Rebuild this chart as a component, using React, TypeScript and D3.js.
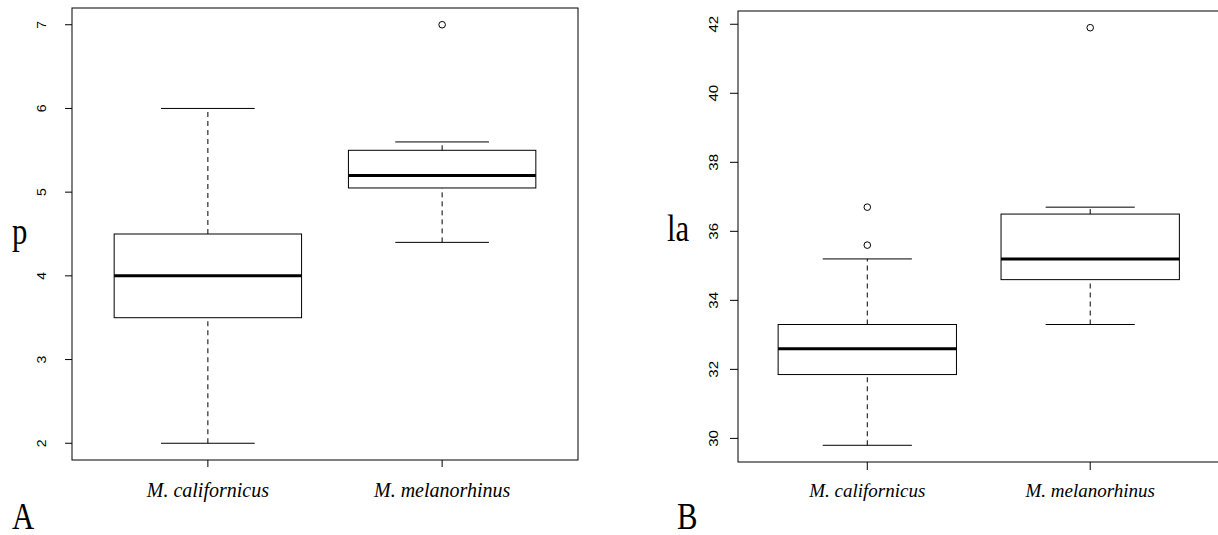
import React from "react";
import * as d3 from "d3";

// groups on the x axis
const groups = ["M. californicus", "M. melanorhinus"];

// box stats: [lower whisker, Q1, median, Q3, upper whisker]
const pStats = [
  [2, 3.5, 4, 4.5, 6],
  [4.4, 5.05, 5.2, 5.5, 5.6],
];
const pOutliers = [[], [7]];
const pTicks = [2, 3, 4, 5, 6, 7];

const laStats = [
  [29.8, 31.85, 32.6, 33.3, 35.2],
  [33.3, 34.6, 35.2, 36.5, 36.7],
];
const laOutliers = [[36.7, 35.6], [41.9]];
const laTicks = [30, 32, 34, 36, 38, 40, 42];

type PanelProps = {
  stats: number[][];
  outliers: number[][];
  ticks: number[];
  left: number;
  right: number;
  top: number;
  bottom: number;
  tickFont: number;
  labelFont: number;
  tickLabelX: number;
  tickLen: number;
  yLabel: string;
  yLabelX: number;
  yLabelY: number;
  letter: string;
  letterX: number;
};

function Panel(props: PanelProps) {
  const { stats, outliers, ticks, left, right, top, bottom } = props;

  // R style range: data extent padded by 4%
  const all = stats.flat().concat(outliers.flat());
  const [lo, hi] = d3.extent(all) as [number, number];
  const pad = (hi - lo) * 0.04;
  const y = d3.scaleLinear().domain([lo - pad, hi + pad]).range([bottom, top]);
  const x = d3.scaleLinear().domain([0.42, groups.length + 0.58]).range([left, right]);

  const bigFont = "'Liberation Serif', 'Times New Roman', serif";
  const sans = "'Liberation Sans', Arial, sans-serif";

  return (
    <g>
      {/* frame */}
      <rect x={left} y={top} width={right - left} height={bottom - top} fill="none" stroke="#000" strokeWidth={1} />

      {/* y axis */}
      {ticks.map((t) => (
        <g key={t}>
          <line x1={left - props.tickLen} x2={left} y1={y(t)} y2={y(t)} stroke="#000" />
          <text
            transform={`translate(${props.tickLabelX},${y(t)}) rotate(-90) scale(1,0.87)`}
            textAnchor="middle"
            fontFamily={sans}
            fontSize={props.tickFont}
            fill="#000"
          >
            {t}
          </text>
        </g>
      ))}

      {/* x axis */}
      {groups.map((g, i) => (
        <g key={g}>
          <line x1={x(i + 1)} x2={x(i + 1)} y1={bottom} y2={bottom + props.tickLen} stroke="#000" />
          <text
            x={x(i + 1)}
            y={497}
            textAnchor="middle"
            fontFamily={bigFont}
            fontStyle="italic"
            fontSize={props.labelFont}
            fill="#000"
          >
            {g}
          </text>
        </g>
      ))}

      {/* boxes */}
      {stats.map((s, i) => {
        const cx = x(i + 1);
        const bw = x(1.4) - x(1);
        const sw = x(1.2) - x(1);
        return (
          <g key={i}>
            <line x1={cx} x2={cx} y1={y(s[0])} y2={y(s[1])} stroke="#000" strokeDasharray="5,4" />
            <line x1={cx} x2={cx} y1={y(s[3])} y2={y(s[4])} stroke="#000" strokeDasharray="5,4" />
            <line x1={cx - sw} x2={cx + sw} y1={y(s[0])} y2={y(s[0])} stroke="#000" />
            <line x1={cx - sw} x2={cx + sw} y1={y(s[4])} y2={y(s[4])} stroke="#000" />
            <rect x={cx - bw} y={y(s[3])} width={bw * 2} height={y(s[1]) - y(s[3])} fill="#fff" stroke="#000" />
            <line x1={cx - bw} x2={cx + bw} y1={y(s[2])} y2={y(s[2])} stroke="#000" strokeWidth={3} />
            {outliers[i].map((o, j) => (
              <circle key={j} cx={cx} cy={y(o)} r={3.3} fill="none" stroke="#000" />
            ))}
          </g>
        );
      })}

      {/* axis label and panel letter */}
      <text
        transform={`translate(${props.yLabelX},${props.yLabelY}) scale(0.83,1)`}
        fontFamily={bigFont}
        fontSize={37}
        fill="#000"
      >
        {props.yLabel}
      </text>
      <text
        transform={`translate(${props.letterX},529) scale(0.83,1)`}
        fontFamily={bigFont}
        fontSize={37}
        fill="#000"
      >
        {props.letter}
      </text>
    </g>
  );
}

export default function App() {
  return (
    <svg width={1218} height={535} style={{ position: "absolute", left: 0, top: 0, background: "#fff" }}>
      <rect width={1218} height={535} fill="#fff" />
      <Panel
        stats={pStats}
        outliers={pOutliers}
        ticks={pTicks}
        left={72}
        right={578}
        top={8}
        bottom={460}
        tickFont={14}
        labelFont={20}
        tickLabelX={46}
        tickLen={7}
        yLabel="p"
        yLabelX={12}
        yLabelY={244}
        letter="A"
        letterX={12}
      />
      <Panel
        stats={laStats}
        outliers={laOutliers}
        ticks={laTicks}
        left={738}
        right={1219.5}
        top={11}
        bottom={462}
        tickFont={15}
        labelFont={19}
        tickLabelX={718}
        tickLen={8}
        yLabel="la"
        yLabelX={667}
        yLabelY={241}
        letter="B"
        letterX={677}
      />
    </svg>
  );
}
